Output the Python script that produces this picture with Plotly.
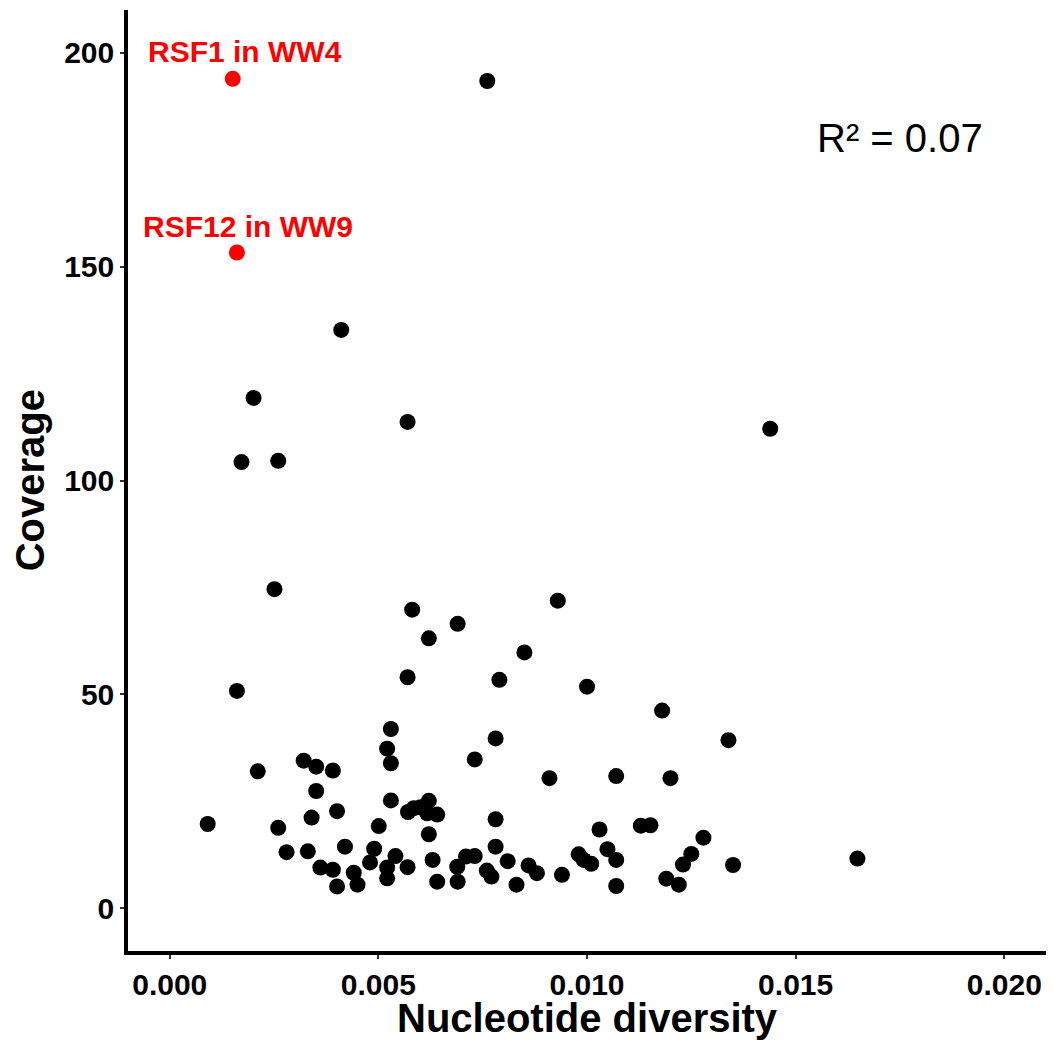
import plotly.graph_objects as go

# Nucleotide diversity (x) and coverage (y) for all samples
diversity = [
    0.00761, 0.00411, 0.00201, 0.00570, 0.01439, 0.00172, 0.00260, 0.00251,
    0.00581, 0.00930, 0.00690, 0.00621, 0.00850, 0.00570, 0.00790, 0.01000,
    0.00161, 0.01180, 0.01339, 0.00530, 0.00521, 0.00530, 0.00781, 0.00731,
    0.00211, 0.00321, 0.00351, 0.00391, 0.00910, 0.01070, 0.01200, 0.00351,
    0.00530, 0.00621, 0.00571, 0.00585, 0.00601, 0.00617, 0.00641, 0.00401,
    0.00340, 0.00091, 0.00260, 0.00501, 0.00621, 0.00781, 0.01030, 0.01129,
    0.01152, 0.01279, 0.00280, 0.00331, 0.00420, 0.00490, 0.00541, 0.00480,
    0.00361, 0.00391, 0.00441, 0.00521, 0.00521, 0.00570, 0.00630, 0.00689,
    0.00710, 0.00731, 0.00641, 0.00690, 0.00401, 0.00450, 0.00781, 0.00760,
    0.00771, 0.00810, 0.00831, 0.00860, 0.00880, 0.00940, 0.00980, 0.00992,
    0.01010, 0.01049, 0.01070, 0.01070, 0.01190, 0.01220, 0.01230, 0.01250,
    0.01350, 0.01648,
]
coverage = [
    193.4, 135.2, 119.3, 113.7, 112.1, 104.3, 104.6, 74.6,
    69.8, 71.9, 66.5, 63.1, 59.8, 54.0, 53.4, 51.8,
    50.8, 46.2, 39.3, 41.9, 37.3, 33.9, 39.7, 34.8,
    32.0, 34.5, 33.1, 32.2, 30.4, 30.9, 30.4, 27.4,
    25.2, 25.1, 22.5, 23.4, 23.6, 22.2, 21.9, 22.7,
    21.2, 19.7, 18.8, 19.2, 17.3, 20.8, 18.4, 19.3,
    19.4, 16.5, 13.1, 13.3, 14.4, 13.9, 12.2, 10.7,
    9.5, 9.0, 8.3, 9.5, 7.0, 9.6, 11.3, 9.7,
    12.1, 12.2, 6.2, 6.2, 5.1, 5.5, 14.4, 8.8,
    7.4, 11.0, 5.5, 10.0, 8.2, 7.8, 12.6, 11.3,
    10.4, 13.8, 11.3, 5.2, 6.9, 5.5, 10.2, 12.7,
    10.1, 11.6,
]

# Highlighted samples
hl_labels = ["RSF1 in WW4", "RSF12 in WW9"]
hl_diversity = [0.00151, 0.00161]
hl_coverage = [193.9, 153.3]
hl_label_x = [0.00180, 0.00187]
hl_label_y = [200.2, 159.4]

r2_text = "R² = 0.07"
x_title = "Nucleotide diversity"
y_title = "Coverage"
x_ticks = [0.000, 0.005, 0.010, 0.015, 0.020]
x_ticktext = ["0.000", "0.005", "0.010", "0.015", "0.020"]
y_ticks = [0, 50, 100, 150, 200]

FONT = "Liberation Sans, Arial, sans-serif"

fig = go.Figure()
fig.add_trace(go.Scatter(
    x=diversity, y=coverage, mode="markers",
    marker=dict(color="black", size=16, line=dict(width=0)),
    showlegend=False,
))
fig.add_trace(go.Scatter(
    x=hl_diversity, y=hl_coverage, mode="markers",
    marker=dict(color="#FF0000", size=16, line=dict(width=0)),
    showlegend=False,
))
for lab, lx, ly in zip(hl_labels, hl_label_x, hl_label_y):
    fig.add_annotation(
        x=lx, y=ly, text=lab, showarrow=False,
        font=dict(family=FONT, size=30, color="#FF0000", weight="bold"),
        xanchor="center", yanchor="middle",
    )
fig.add_annotation(
    x=0.0175, y=180, text=r2_text, showarrow=False,
    font=dict(family=FONT, size=40, color="black"),
    xanchor="center", yanchor="middle",
)
# Axis titles
fig.add_annotation(
    xref="paper", yref="paper", x=0.5, y=-0.0715, text=x_title,
    showarrow=False, xanchor="center", yanchor="middle",
    font=dict(family=FONT, size=40, color="black", weight="bold"),
)
fig.add_annotation(
    xref="paper", yref="paper", x=-0.107, y=0.5, text=y_title,
    showarrow=False, xanchor="center", yanchor="middle", textangle=-90,
    font=dict(family=FONT, size=40, color="black", weight="bold"),
)

fig.update_layout(
    width=1053, height=1041,
    margin=dict(l=128, r=7, t=10, b=90),
    paper_bgcolor="white", plot_bgcolor="white",
    font=dict(family=FONT, color="black"),
    xaxis=dict(
        range=[-0.001, 0.021], tickvals=x_ticks, ticktext=x_ticktext,
        showgrid=False, zeroline=False, automargin=False,
        showline=True, linecolor="black", linewidth=3.5,
        ticks="outside", ticklen=4, tickwidth=2, tickcolor="#333333",
        tickfont=dict(family=FONT, size=30, color="black", weight="bold"),
    ),
    yaxis=dict(
        range=[-10, 210], tickvals=y_ticks,
        showgrid=False, zeroline=False, automargin=False,
        showline=True, linecolor="black", linewidth=3.5,
        ticks="outside", ticklen=4, tickwidth=2, tickcolor="#333333",
        tickfont=dict(family=FONT, size=30, color="black", weight="bold"),
    ),
)

fig.write_html("out.html")
